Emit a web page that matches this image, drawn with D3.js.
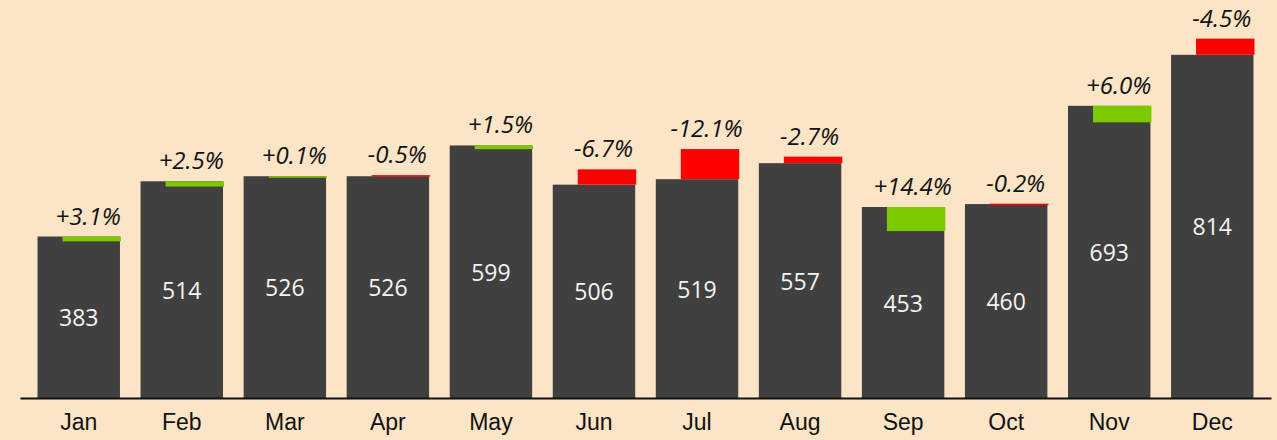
<!DOCTYPE html>
<html>
<head>
<meta charset="utf-8">
<script src="https://cdn.jsdelivr.net/npm/d3@7"></script>
<style>
  html, body { margin: 0; padding: 0; background: #fbe5c6; }
  svg { display: block; font-family: "Open Sans", "Noto Sans", sans-serif; }
  .month text { font-size: 23px; fill: #111; }
  .val { font-size: 23px; fill: #f4f4f4; }
  .pct { font-size: 24px; font-style: italic; fill: #111; }
</style>
</head>
<body>
<svg id="chart"></svg>
<script>
var width = 1277,
  height = 440,
  baseY = 398;

// actual values per month
var months = ["Jan", "Feb", "Mar", "Apr", "May", "Jun", "Jul", "Aug", "Sep", "Oct", "Nov", "Dec"];
var actual = [383, 514, 526, 526, 599, 506, 519, 557, 453, 460, 693, 814];
// change vs previous year, in percent (as labelled)
var change = [3.1, 2.5, 0.1, -0.5, 1.5, -6.7, -12.1, -2.7, 14.4, -0.2, 6.0, -4.5];

var data = months.map(function (m, i) {
  return {
    month: m,
    value: actual[i],
    pct: change[i],
    prev: actual[i] / (1 + change[i] / 100)
  };
});

var svg = d3.select("#chart")
  .attr("width", width)
  .attr("height", height);

var x = d3.scaleBand()
  .domain(months)
  .range([20, 1271])
  .paddingInner(0.2)
  .paddingOuter(0.17);

var y = d3.scaleLinear()
  .domain([0, 944])
  .range([baseY, 0]);

var offset = 25;

// dark actual bars
svg.selectAll(".bar")
  .data(data)
  .enter().append("rect")
  .attr("class", "bar")
  .attr("x", function (d) { return x(d.month); })
  .attr("width", x.bandwidth())
  .attr("y", function (d) { return y(d.value); })
  .attr("height", function (d) { return baseY - y(d.value); })
  .attr("fill", "#404040");

// variance bars, shifted right
svg.selectAll(".delta")
  .data(data)
  .enter().append("rect")
  .attr("class", "delta")
  .attr("x", function (d) { return x(d.month) + offset; })
  .attr("width", x.bandwidth() - offset + 1)
  .attr("y", function (d) { return y(Math.max(d.value, d.prev)); })
  .attr("height", function (d) { return Math.max(1.5, Math.abs(y(d.value) - y(d.prev))); })
  .attr("fill", function (d) { return d.pct >= 0 ? "#7dc900" : "#ff0000"; });

// value labels in the middle of the bars
svg.selectAll(".val")
  .data(data)
  .enter().append("text")
  .attr("class", "val")
  .attr("x", function (d) { return x(d.month) + x.bandwidth() / 2; })
  .attr("y", function (d) { return (y(d.value) + baseY) / 2; })
  .attr("text-anchor", "middle")
  .attr("dominant-baseline", "central")
  .text(function (d) { return d.value; });

// percentage labels
svg.selectAll(".pct")
  .data(data)
  .enter().append("text")
  .attr("class", "pct")
  .attr("x", function (d) { return x(d.month) + offset + (x.bandwidth() - offset) / 2 - 3; })
  .attr("y", function (d) { return y(Math.max(d.value, d.prev)) - 12; })
  .attr("text-anchor", "middle")
  .text(function (d) { return (d.pct >= 0 ? "+" : "") + d.pct.toFixed(1) + "%"; });

// month axis
var axis = svg.append("g")
  .attr("class", "month")
  .attr("transform", "translate(0," + baseY + ")")
  .call(d3.axisBottom(x).tickSize(0).tickPadding(16));

axis.select(".domain")
  .attr("stroke", "#111")
  .attr("stroke-width", 2);
axis.selectAll("text")
  .attr("font-family", null)
  .attr("font-size", null);
</script>
</body>
</html>
